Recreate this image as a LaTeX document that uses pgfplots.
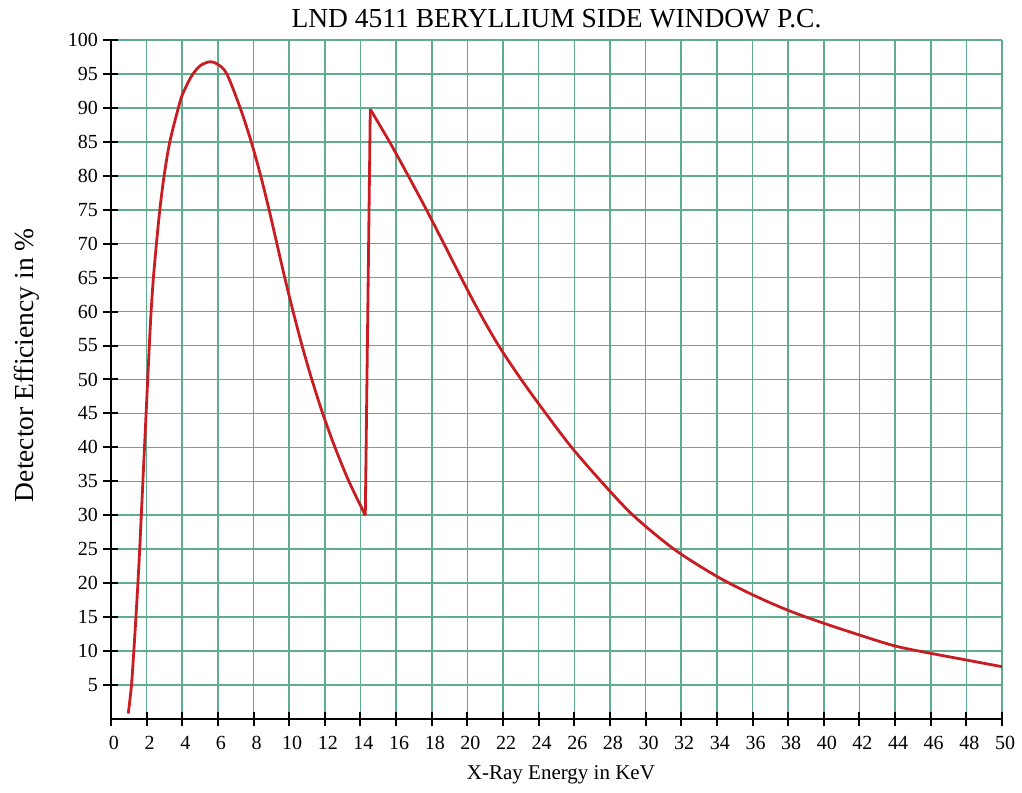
\documentclass[border=0pt]{standalone}
\usepackage{fontspec}
\setmainfont{Liberation Serif}
\usepackage{pgfplots}
\pgfplotsset{compat=1.18}
\definecolor{gridgreen}{RGB}{95,172,142}
\definecolor{curvered}{RGB}{200,30,35}
\begin{document}
\begin{tikzpicture}
\begin{axis}[
  scale only axis, width=891pt, height=679pt,
  xmin=0, xmax=50, ymin=0, ymax=100,
  axis x line=bottom, axis y line=left,
  axis line style={line width=2.2pt,-},
  xtick={0,2,...,50}, ytick={5,10,...,100},
  grid=major, major grid style={gridgreen, line width=1.6pt},
  tick align=center, major tick length=15pt, tick style={black, line width=2pt},
  /pgf/number format/assume math mode=true,
  xticklabel style={font=\fontsize{20}{20}\selectfont, yshift=-6pt, xshift=3pt},
  yticklabel style={font=\fontsize{20}{20}\selectfont, xshift=-2pt},
  title={LND 4511 BERYLLIUM SIDE WINDOW P.C.},
  title style={font=\fontsize{27.5}{27.5}\selectfont, at={(axis description cs:0.5,1.009)}, anchor=base},
  xlabel={X-Ray Energy in KeV},
  xlabel style={font=\fontsize{21}{21}\selectfont, at={(axis description cs:0.505,-0.0884)}, anchor=base},
  ylabel={Detector Efficiency in \%},
  ylabel style={font=\fontsize{27.5}{27.5}\selectfont, at={(axis description cs:-0.0875,0.521)}, anchor=base},
]
\addplot[curvered, line width=2.8pt, smooth, tension=0.5] coordinates {
(0.97,0.8)(1.15,5)(1.28,10)(1.4,15)(1.51,20)(1.61,25)(1.7,30)(1.79,35)(1.88,40)(1.97,45)(2.06,50)(2.15,55)(2.25,60)(2.38,65)(2.55,70)(2.74,75)(2.98,80)(3.3,85)(3.78,90)(4.0,91.9)(4.5,94.6)(5.0,96.2)(5.56,96.8)(6.0,96.4)(6.5,95.0)(7.25,90)(7.87,85)(8.4,80)(8.87,75)(9.31,70)(9.75,65)(10.22,60)(10.72,55)(11.27,50)(11.88,45)(12.57,40)(13.35,35)(14.27,30)
};
\addplot[curvered, line width=2.8pt] coordinates {(14.27,30)(14.55,89.8)};
\addplot[curvered, line width=2.8pt, smooth, tension=0.5] coordinates {
(14.55,89.8)(15.63,85)(16.68,80)(17.7,75)(18.68,70)(19.65,65)(20.65,60)(21.75,55)(23.02,50)(24.4,45)(25.85,40)(27.5,35)(29.3,30)(31.6,25)(34,21)(36,18.3)(38,16)(40,14.1)(42,12.37)(44,10.75)(46,9.67)(48,8.69)(50,7.7)
};
\end{axis}
\pgfresetboundingbox
\path (current axis.south west) ++(-111pt,-73pt) rectangle ++(1022pt,792pt);
\end{tikzpicture}
\end{document}
